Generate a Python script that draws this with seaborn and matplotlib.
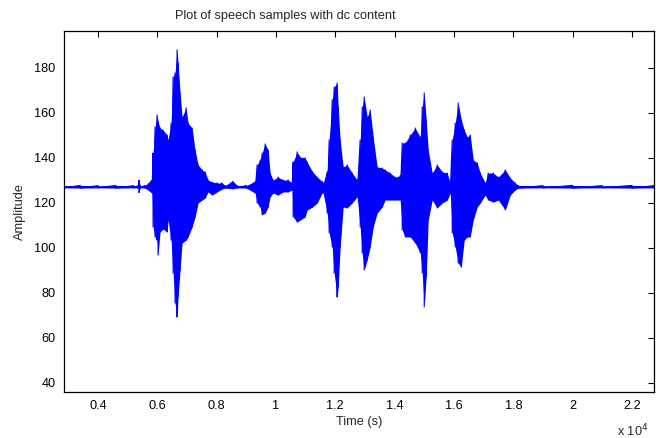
#!/usr/bin/env python
# coding: utf-8

# speech waveform with dc offset, drawn as a min/max envelope per column

import numpy as np
import pandas as pd
import matplotlib
matplotlib.use("Agg")
import matplotlib.pyplot as plt
import seaborn as sns

samples = [2853, 3400, 4000, 4600, 5200, 5360, 5383, 5420, 5585, 5821,
           5855, 5922, 5990, 6024, 6091, 6192, 6327, 6361, 6462, 6530,
           6597, 6665, 6698, 6766, 6833, 6968, 7036, 7170, 7272, 7373,
           7508, 7609, 7710, 7845, 8014, 8183, 8284, 8553, 8700, 9000,
           9295, 9363, 9464, 9531, 9633, 9734, 9801, 9903, 10071, 10240,
           10409, 10544, 10577, 10712, 10813, 10982, 11050, 11218, 11387, 11555,
           11589, 11724, 11791, 11893, 11960, 12061, 12095, 12162, 12264, 12398,
           12567, 12736, 12837, 12905, 12972, 13073, 13174, 13276, 13410, 13579,
           13680, 13849, 14017, 14186, 14254, 14355, 14524, 14692, 14861, 14928,
           14996, 15063, 15131, 15266, 15434, 15603, 15772, 15873, 15940, 16041,
           16142, 16244, 16345, 16446, 16547, 16648, 16783, 16885, 17053, 17154,
           17323, 17492, 17728, 17897, 18065, 18166, 19000, 20000, 21000, 22000,
           22742]
upper = [127.6, 127.7, 127.6, 127.7, 127.6, 127.7, 130.0, 127.6, 127.7, 130.0,
         142.1, 153.7, 159.0, 156.0, 153.2, 152.3, 150.1, 147.9, 155.4, 175.9,
         177.7, 187.9, 182.1, 168.8, 158.1, 162.1, 155.4, 153.2, 143.4, 136.8,
         134.6, 133.7, 130.1, 129.2, 128.8, 128.8, 127.7, 129.5, 127.6, 127.7,
         129.2, 136.8, 139.0, 142.1, 146.1, 143.4, 133.2, 130.1, 131.4, 130.1,
         130.1, 128.8, 138.1, 142.6, 140.3, 139.9, 138.1, 134.0, 131.4, 129.5,
         128.8, 133.7, 147.9, 165.7, 171.4, 173.2, 162.6, 147.9, 135.9, 136.8,
         133.2, 130.1, 147.9, 162.6, 167.0, 158.1, 161.2, 149.2, 135.9, 135.4,
         134.6, 133.2, 131.4, 132.0, 146.6, 146.6, 150.1, 153.2, 149.2, 162.6,
         168.8, 156.8, 143.4, 133.2, 136.8, 133.7, 133.2, 128.8, 147.9, 155.4,
         164.3, 156.8, 152.3, 149.2, 150.1, 139.0, 137.7, 133.2, 128.8, 133.2,
         133.2, 131.4, 134.6, 131.0, 128.8, 127.7, 127.6, 127.7, 127.6, 127.7,
         127.6]
lower = [126.6, 126.5, 126.6, 126.5, 126.6, 126.5, 124.5, 126.6, 126.5, 124.3,
         109.2, 104.8, 103.4, 96.8, 107.0, 108.3, 107.0, 112.3, 103.4, 88.8,
         75.4, 69.2, 78.1, 90.1, 102.1, 103.4, 104.8, 109.2, 113.7, 119.9,
         121.2, 122.1, 124.8, 123.4, 124.8, 126.1, 126.5, 126.2, 126.6, 126.5,
         124.3, 119.9, 118.1, 114.6, 115.4, 118.1, 122.6, 124.3, 123.4, 124.8,
         124.8, 125.7, 113.7, 111.4, 112.3, 113.7, 116.8, 118.0, 119.9, 124.3,
         124.3, 115.4, 106.6, 100.3, 88.8, 78.1, 82.6, 100.3, 118.1, 117.7,
         119.9, 122.6, 109.2, 97.7, 90.1, 94.6, 100.3, 109.2, 115.4, 118.1,
         121.2, 121.2, 121.2, 121.2, 107.9, 104.8, 104.8, 102.1, 97.7, 88.8,
         73.7, 87.0, 112.3, 121.2, 117.7, 119.9, 121.2, 124.3, 106.6, 100.3,
         93.2, 91.4, 103.4, 104.8, 104.8, 112.3, 118.1, 119.9, 123.4, 121.2,
         120.3, 121.2, 116.8, 123.4, 125.7, 126.5, 126.6, 126.5, 126.6, 126.5,
         126.6]

xticks = [4000, 6000, 8000, 10000, 12000, 14000, 16000, 18000, 20000, 22000]
yticks = [40, 60, 80, 100, 120, 140, 160, 180]

sns.set_theme(style="white")
plt.rcParams['font.family'] = ['Liberation Sans', 'DejaVu Sans']
fs = 9.2

# zigzag through max/min of each column, like a dense waveform trace
zz = pd.DataFrame({
    'x': np.repeat(samples, 2),
    'y': np.column_stack([upper, lower]).ravel(),
})

fig = plt.figure(figsize=(6.56, 4.38), dpi=100)
ax = fig.add_axes([64 / 656, 46 / 438, 590 / 656, 361 / 438])
ax.fill_between(samples, lower, upper, color='#0000ff', linewidth=0)
sns.lineplot(data=zz, x='x', y='y', sort=False, estimator=None,
             color='#0000ff', linewidth=0.8, ax=ax)

ax.set_xlim(2853, 22742)
ax.set_ylim(35.9, 196.3)
ax.set_xticks(xticks)
ax.set_xticklabels(['%g' % (t / 1e4) for t in xticks])
ax.set_yticks(yticks)
ax.tick_params(direction='in', length=4, width=0.8, colors='black',
               labelsize=fs, top=True, right=True, pad=6)
for s in ax.spines.values():
    s.set_color('black')
    s.set_linewidth(0.9)

# title sits left of the axes centre in the original
fig.text(285 / 656, 1 - 16 / 438, 'Plot of speech samples with dc content',
         fontsize=fs, ha='center', va='center')
ax.set_xlabel('Time (s)', fontsize=fs, labelpad=3)
ax.set_ylabel('Amplitude', fontsize=fs, labelpad=6)
fig.text(617 / 656, 1 - 436 / 438, 'x 10$^{4}$', fontsize=fs)

fig.savefig('out.png', dpi=100)
